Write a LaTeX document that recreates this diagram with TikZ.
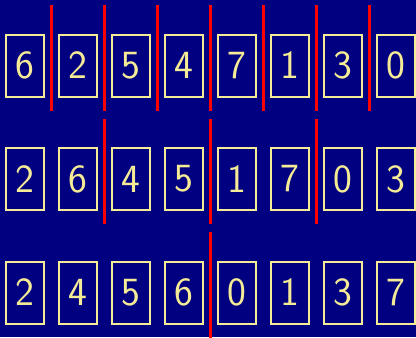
\documentclass[tikz,border=0pt]{standalone}
\usepackage{fontspec}
\usetikzlibrary{positioning,calc}
\definecolor{slidebg}{RGB}{0,0,128}
\definecolor{cellfg}{RGB}{245,235,150}
\tikzset{
	cell/.style={
		draw=cellfg,
		line width=1pt,
		text=cellfg,
		minimum width=19pt,
		minimum height=31pt,
		inner sep=0pt,
		font=\sffamily\fontsize{20}{24}\selectfont
	},
	divider/.style={draw=red, line width=1.35pt}
}
\begin{document}
\begin{tikzpicture}[node distance=24.75pt and 6.5pt]

	% Background
	\fill[slidebg] (-12.5pt,-135.75pt) rectangle (195.5pt,32.75pt);
	\useasboundingbox (-12.5pt,-135.75pt) rectangle (195.5pt,32.75pt);

	% Row 1: single elements
	\node[cell] (r1a) at (0,0) {6};
	\node[cell, right=of r1a] (r1b) {2};
	\node[cell, right=of r1b] (r1c) {5};
	\node[cell, right=of r1c] (r1d) {4};
	\node[cell, right=of r1d] (r1e) {7};
	\node[cell, right=of r1e] (r1f) {1};
	\node[cell, right=of r1f] (r1g) {3};
	\node[cell, right=of r1g] (r1h) {0};

	% Row 2: sorted pairs
	\node[cell, below=of r1a] (r2a) {2};
	\node[cell, right=of r2a] (r2b) {6};
	\node[cell, right=of r2b] (r2c) {4};
	\node[cell, right=of r2c] (r2d) {5};
	\node[cell, right=of r2d] (r2e) {1};
	\node[cell, right=of r2e] (r2f) {7};
	\node[cell, right=of r2f] (r2g) {0};
	\node[cell, right=of r2g] (r2h) {3};

	% Row 3: sorted halves
	\node[cell, below=of r2a] (r3a) {2};
	\node[cell, right=of r3a] (r3b) {4};
	\node[cell, right=of r3b] (r3c) {5};
	\node[cell, right=of r3c] (r3d) {6};
	\node[cell, right=of r3d] (r3e) {0};
	\node[cell, right=of r3e] (r3f) {1};
	\node[cell, right=of r3f] (r3g) {3};
	\node[cell, right=of r3g] (r3h) {7};

	% Dividers
	\draw[divider] ($(r1a.east)!.5!(r1b.west)$) ++(0,30.25pt) -- ++(0,-52.85pt);
	\draw[divider] ($(r1b.east)!.5!(r1c.west)$) ++(0,30.25pt) -- ++(0,-52.85pt);
	\draw[divider] ($(r1c.east)!.5!(r1d.west)$) ++(0,30.25pt) -- ++(0,-52.85pt);
	\draw[divider] ($(r1d.east)!.5!(r1e.west)$) ++(0,30.25pt) -- ++(0,-52.85pt);
	\draw[divider] ($(r1e.east)!.5!(r1f.west)$) ++(0,30.25pt) -- ++(0,-52.85pt);
	\draw[divider] ($(r1f.east)!.5!(r1g.west)$) ++(0,30.25pt) -- ++(0,-52.85pt);
	\draw[divider] ($(r1g.east)!.5!(r1h.west)$) ++(0,30.25pt) -- ++(0,-52.85pt);

	\draw[divider] ($(r2b.east)!.5!(r2c.west)$) ++(0,30.25pt) -- ++(0,-52.85pt);
	\draw[divider] ($(r2d.east)!.5!(r2e.west)$) ++(0,30.25pt) -- ++(0,-52.85pt);
	\draw[divider] ($(r2f.east)!.5!(r2g.west)$) ++(0,30.25pt) -- ++(0,-52.85pt);

	\draw[divider] ($(r3d.east)!.5!(r3e.west)$) ++(0,30.25pt) -- ++(0,-52.85pt);

\end{tikzpicture}
\end{document}
